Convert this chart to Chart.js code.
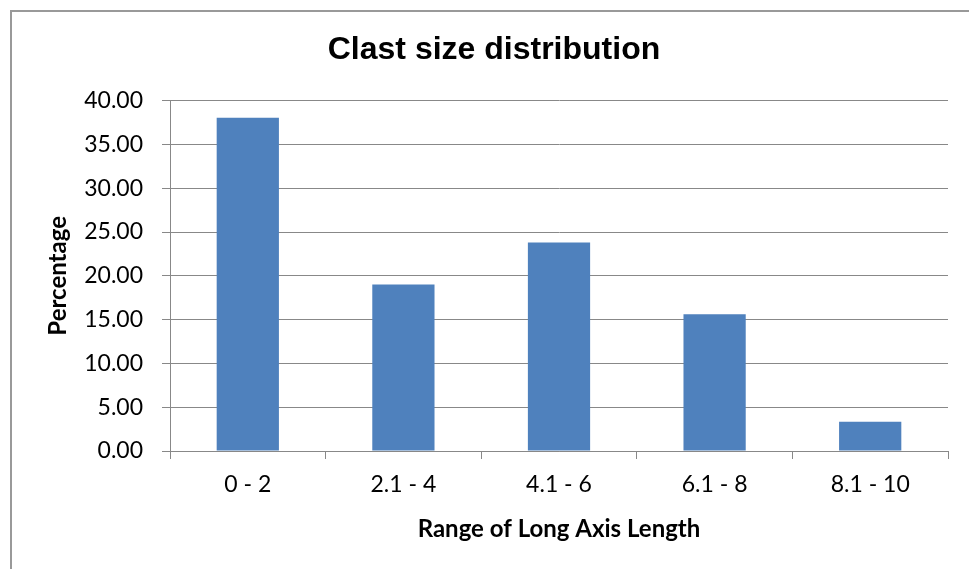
<!DOCTYPE html>
<html>
<head>
<meta charset="utf-8">
<script src="https://cdn.jsdelivr.net/npm/chart.js@4"></script>
<style>
  html, body { margin: 0; padding: 0; background: #fff; overflow: hidden; }
  #frame { position: absolute; left: 10px; top: 10px; width: 966px; height: 600px; border: 2px solid #999; }
  #box { position: absolute; left: 0; top: 0; width: 964px; height: 557px; }
</style>
</head>
<body>
<div id="frame"><div id="box"><canvas id="graphiqueClast"></canvas></div></div>
<script>
var categories = ['0 - 2', '2.1 - 4', '4.1 - 6', '6.1 - 8', '8.1 - 10'];
var percentages = [38.06, 19.0, 23.8, 15.62, 3.33];
var yTicks = [0, 5, 10, 15, 20, 25, 30, 35, 40];

var ctx = document.getElementById('graphiqueClast').getContext('2d');
var graphiqueClast = new Chart(ctx, {
    type: 'bar',
    data: {
        labels: categories,
        datasets: [{
            label: 'Percentage',
            data: percentages,
            backgroundColor: '#4F81BD',
            borderWidth: 0,
            categoryPercentage: 1.0,
            barPercentage: 0.4
        }]
    },
    options: {
        responsive: true,
        maintainAspectRatio: false,
        animation: false,
        layout: { padding: { left: 28, right: 28, top: 0, bottom: 0 } },
        plugins: {
            legend: { display: false },
            tooltip: { enabled: false },
            title: {
                display: true,
                text: 'Clast size distribution',
                color: '#000',
                font: { family: 'Liberation Sans', size: 32, weight: 'bold', lineHeight: 1.2 },
                padding: { top: 19, bottom: 31.3 }
            }
        },
        scales: {
            x: {
                afterFit: function (scale) { scale.height = 118; },
                grid: { drawOnChartArea: false, drawTicks: true, tickLength: 8, color: '#888', offset: true },
                border: { color: '#888' },
                ticks: { color: '#000', padding: 12, font: { family: 'Lato', size: 23 } },
                title: {
                    display: true,
                    text: 'Range of Long Axis Length',
                    color: '#000',
                    font: { family: 'Lato', size: 24, weight: 'bold' },
                    padding: { top: 0, bottom: 25.8 }
                }
            },
            y: {
                min: 0,
                max: 40,
                afterFit: function (scale) { scale.width = 130; },
                afterBuildTicks: function (scale) {
                    scale.ticks = yTicks.map(function (v) { return { value: v }; });
                },
                grid: { color: '#888', tickLength: 8 },
                border: { color: '#888' },
                ticks: {
                    color: '#000',
                    padding: 19,
                    font: { family: 'Lato', size: 23 },
                    callback: function (value) { return Number(value).toFixed(2); }
                },
                title: {
                    display: true,
                    text: 'Percentage',
                    color: '#000',
                    font: { family: 'Lato', size: 24, weight: 'bold' },
                    padding: { top: 3.6, bottom: 0 }
                }
            }
        }
    }
});
</script>
</body>
</html>
